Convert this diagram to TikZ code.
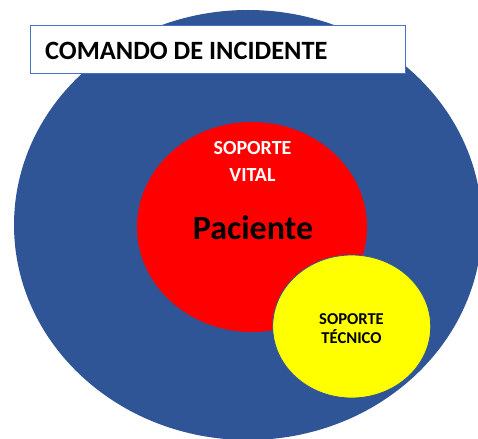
\documentclass[tikz,border=0pt]{standalone}
\usepackage{fontspec}
\setmainfont{Carlito}
\definecolor{outerblue}{HTML}{2F5597}
\definecolor{boxblue}{HTML}{4472C4}
\definecolor{softred}{HTML}{FF0000}
\definecolor{softyellow}{HTML}{FFFF00}
\tikzset{
  lbl/.style={font=\bfseries, inner sep=0pt, anchor=base},
}
\begin{document}
\begin{tikzpicture}[x=1pt,y=-1pt]
\useasboundingbox (0,0) rectangle (478,438);
\clip (0,0) rectangle (478,438);
\fill[outerblue] (248,225) ellipse [x radius=234, y radius=215];
\fill[softred] (252,227) ellipse [x radius=115, y radius=105];
\filldraw[fill=softyellow, draw=outerblue, line width=0.8pt] (351.7,326.5) ellipse [x radius=79, y radius=71.5];
\node[draw=boxblue, line width=1pt, fill=white, minimum width=375pt, minimum height=48pt, inner sep=0pt] (title) at (218.2,50) {};
\node[lbl, anchor=base west, font=\fontsize{26.4}{30}\selectfont\bfseries] (titletext) at (45,60) {COMANDO DE INCIDENTE};
\node[lbl, text=white, font=\fontsize{20}{24}\selectfont\bfseries] (sv1) at (252.5,155) {SOPORTE};
\node[lbl, text=white, font=\fontsize{20}{24}\selectfont\bfseries] (sv2) at (252.5,181.7) {VITAL};
\node[lbl, font=\fontsize{34}{40}\selectfont\bfseries] (pac) at (253,239) {Paciente};
\node[lbl, font=\fontsize{16.6}{20}\selectfont\bfseries] (st1) at (351.5,324) {SOPORTE};
\node[lbl, font=\fontsize{16.6}{20}\selectfont\bfseries] (st2) at (351.5,343.3) {TÉCNICO};
\end{tikzpicture}
\end{document}
